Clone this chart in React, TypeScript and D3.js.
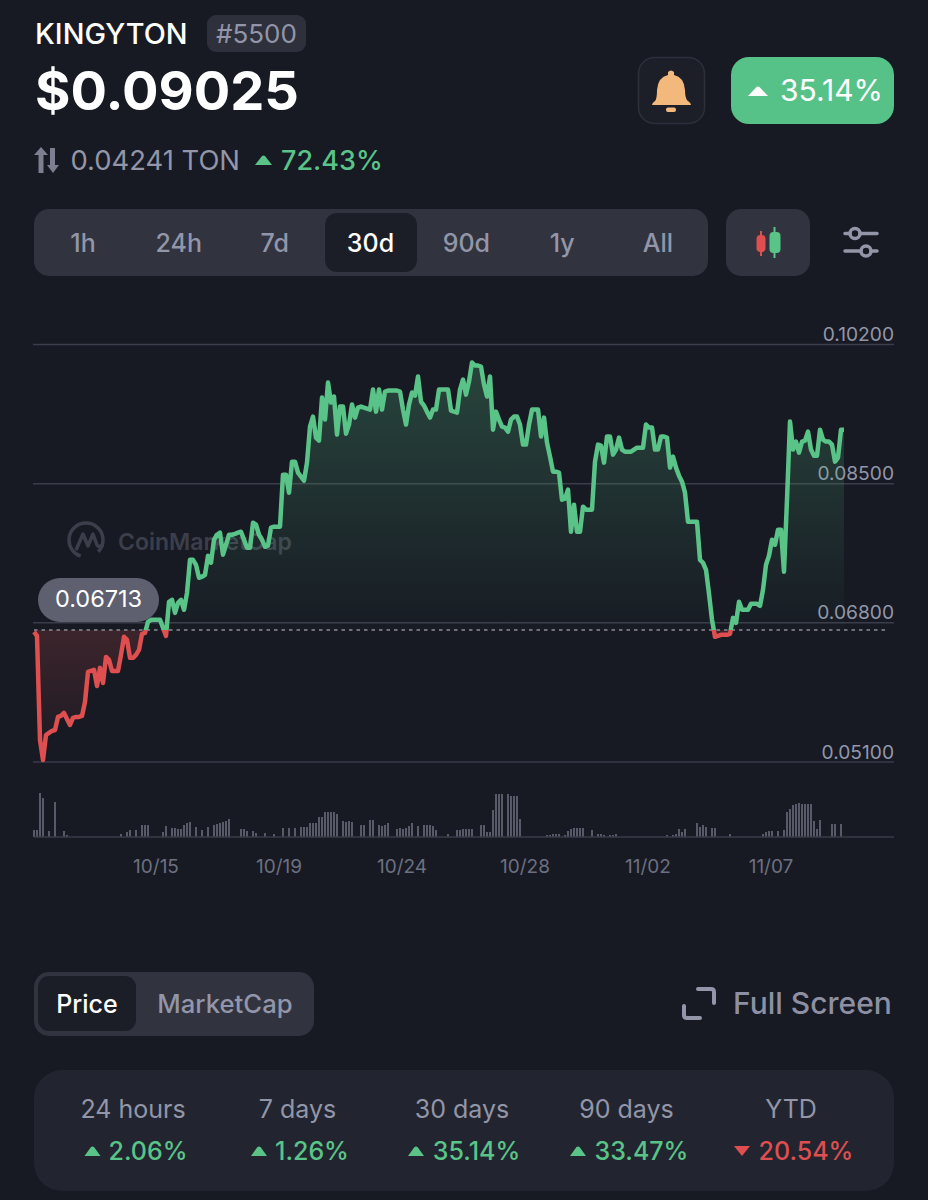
import React from "react";
import * as d3 from "d3";

// Prices in 1e-5 units, one reading per slot
const priceE5 = [
6690,6641,5369,5124,5430,5455,5479,5491,5650,5663,5699,5626,5553,5638,5650,5650,5663,5834,6201,6213,
6225,6029,6250,6066,6384,6347,6213,6213,6213,6409,6629,6592,6372,6372,6409,6470,6665,6678,6812,6837,
6837,6837,6837,6739,6641,7057,7081,6922,7045,7081,6959,7167,7570,7570,7509,7350,7363,7387,7619,7534,
7815,7876,7901,7632,7754,7876,7876,7888,7901,7913,7815,7717,7717,8023,7999,7876,7815,7729,7742,7962,
7974,7974,7974,8610,8610,8390,8769,8769,8634,8586,8537,8757,9197,9319,9063,9026,9552,9283,9735,9491,
9564,9099,9442,9442,9111,9222,9466,9307,9429,9442,9429,9417,9405,9650,9380,9650,9405,9625,9637,9637,
9637,9637,9625,9405,9222,9466,9613,9576,9809,9503,9454,9380,9307,9405,9405,9650,9650,9650,9650,9393,
9380,9368,9650,9772,9588,9747,9980,9943,9943,9931,9711,9564,9809,9160,9380,9283,9197,9185,9136,9283,
9319,9319,9222,8977,8977,9222,9405,9405,9405,9075,9307,9001,8830,8647,8647,8634,8304,8316,8427,7913,
8243,7913,7913,8219,8182,8182,8182,8769,8977,8965,8757,9075,9075,8855,8916,9063,8916,8891,8891,8891,
8916,8940,8940,8940,9222,9185,9185,8916,8916,9075,9075,9063,8696,8830,8696,8598,8524,8390,8035,8035,
8035,8035,7570,7534,7448,7155,6837,6629,6641,6653,6653,6653,6665,6861,6800,7057,6959,6959,6959,7032,
7032,7032,7008,7204,7509,7619,7815,7754,7937,7937,7424,8304,9258,8916,9014,8879,9014,9026,9136,8916,
8842,8842,9160,9038,9014,9014,8977,8769,8818,9160,9160,
];
const volumes = [
7,7,44,39,0,6,0,35,0,0,6,2,0,0,0,0,0,0,0,0,
0,0,0,0,0,0,0,0,0,3,0,5,7,0,7,0,12,12,12,0,
0,0,0,5,11,0,9,9,8,8,12,14,15,0,10,0,7,0,10,0,
12,13,14,15,16,18,0,0,0,8,8,6,0,6,4,0,0,4,0,0,
3,0,0,9,0,9,0,9,0,10,10,10,14,14,14,20,20,25,25,25,
25,23,0,16,15,16,15,0,0,12,12,0,17,17,0,12,11,12,14,0,
0,8,9,8,9,11,14,0,11,0,12,12,12,11,7,0,0,0,3,0,
0,7,7,8,8,8,8,0,0,12,12,5,5,27,43,43,43,0,43,41,
41,41,18,0,0,0,0,0,0,0,0,2,2,3,3,3,0,2,6,8,
9,9,9,9,0,0,7,0,3,3,2,0,2,2,3,0,0,0,0,0,
0,0,0,0,0,0,0,0,0,0,0,2,0,2,3,8,5,8,0,0,
0,14,10,12,10,0,9,9,0,0,0,0,3,0,0,0,0,0,0,0,
0,0,0,3,5,6,6,0,6,0,7,25,28,32,33,34,33,33,33,33,
16,8,17,0,0,0,13,13,0,13,0,
];
const priceTicks = [0.102, 0.085, 0.068, 0.051];
const dateTicks = ["10/15", "10/19", "10/24", "10/28", "11/02", "11/07"];
const basePrice = 0.06713;
const timeRanges = ["1h", "24h", "7d", "30d", "90d", "1y", "All"];
const statLabels = ["24 hours", "7 days", "30 days", "90 days", "YTD"];
const statValues = ["2.06%", "1.26%", "35.14%", "33.47%", "20.54%"];
const statUp = [true, true, true, true, false];

const W = 928, H = 1200;
const FONT = "Inter, 'Noto Sans', sans-serif";
const BG = "#171a23", PANEL = "#31333f", ACTIVE = "#1c1e27", STAT = "#22252f";
const GREEN = "#5ac488", RED = "#df4f50", GRAY = "#9296a8", GRID = "#3a3d4a";

const prices = priceE5.map((v) => v / 1e5);
const x = d3.scaleLinear().domain([0, prices.length - 1]).range([34, 844]);
const y = d3.scaleLinear().domain([0.051, 0.102]).range([762, 344.5]);
const yVol = d3.scaleLinear().domain([0, 50]).range([837, 787]);
const xDate = d3.scalePoint<string>().domain(dateTicks).range([156, 771]);
const xRange = d3.scalePoint<string>().domain(timeRanges).range([83, 658]);
const xStat = d3.scalePoint<string>().domain(statLabels).range([133, 791]);
const statText = [148, 312, 476.5, 641.5, 806];
const statTri = [92.5, 259, 416, 578, 742];

const base = y(basePrice);
const line = d3.line<number>().x((_, i) => x(i)).y((d) => y(d));
const area = d3.area<number>().x((_, i) => x(i)).y0(base).y1((d) => y(d));

const Tri = ({ cx, cy, w, h, up, fill }: any) => (
  <path d={up ? `M${cx - w / 2} ${cy + h / 2}L${cx - 1.5} ${cy - h / 2 + 1}Q${cx} ${cy - h / 2} ${cx + 1.5} ${cy - h / 2 + 1}L${cx + w / 2} ${cy + h / 2}Z`
    : `M${cx - w / 2} ${cy - h / 2}L${cx} ${cy + h / 2}L${cx + w / 2} ${cy - h / 2}Z`} fill={fill} />
);

export default function App() {
  return (
    <svg width={W} height={H} viewBox={`0 0 ${W} ${H}`} fontFamily={FONT}
      style={{ position: "fixed", left: 0, top: 0, display: "block", background: BG }}>
      <defs>
        <linearGradient id="gArea" gradientUnits="userSpaceOnUse" x1="0" x2="0" y1="365" y2={base}>
          <stop offset="0" stopColor={GREEN} stopOpacity={0.25} />
          <stop offset="1" stopColor={GREEN} stopOpacity={0.01} />
        </linearGradient>
        <linearGradient id="rArea" gradientUnits="userSpaceOnUse" x1="0" x2="0" y1={base} y2="762">
          <stop offset="0" stopColor={RED} stopOpacity={0.19} />
          <stop offset="1" stopColor={RED} stopOpacity={0.01} />
        </linearGradient>
        <clipPath id="above"><rect x="0" y="0" width={W} height={base} /></clipPath>
        <clipPath id="below"><rect x="0" y={base} width={W} height={H - base} /></clipPath>
      </defs>
      <rect width={W} height={H} fill={BG} />

      {/* Header */}
      <text x={35} y={44} fontSize={28.8} fontWeight={500} fill="#fff">KINGYTON</text>
      <rect x={207} y={15} width={99} height={37} rx={9} fill="#2e303c" />
      <text x={256.5} y={43} fontSize={26} textAnchor="middle" fill={GRAY}>#5500</text>
      <text x={35} y={110} fontSize={54.2} fontWeight={700} fill="#fff">$0.09025</text>
      <g fill="#7b7f8f">
        <path d="M34 155L41 147L48 155H43.5V173H38.5V155Z" />
        <path d="M47 165H50V148H55V165H59L53 173Z" />
      </g>
      <text x={70.5} y={170} fontSize={27.4} fill={GRAY}>0.04241 TON</text>
      <Tri cx={263.5} cy={160} w={17} h={10} up fill={GREEN} />
      <text x={281} y={170} fontSize={27} fontWeight={500} fill={GREEN}>72.43%</text>

      {/* Bell + change pill */}
      <rect x={638.5} y={57.5} width={66} height={66} rx={16} fill="#1c1e28" stroke="#2d303c" strokeWidth={1.5} />
      <path d="M652 105Q652 103 655 101Q657 99 657 90Q658 77 668 75V72Q671 69 674 72V75Q684 77 685 90Q685 99 688 101Q691 103 691 105Z" fill="#f3b87c" />
      <rect x={666} y={107.5} width={10} height={4.5} rx={2} fill="#f3b87c" />
      <rect x={731} y={57} width={163} height={67} rx={18} fill="#57c288" />
      <Tri cx={758} cy={91} w={20} h={10} up fill="#fff" />
      <text x={780} y={101} fontSize={30} fontWeight={400} fill="#fff">35.14%</text>

      {/* Time range tabs */}
      <rect x={34} y={209} width={674} height={67} rx={15} fill={PANEL} />
      <rect x={325} y={213} width={92} height={59} rx={12} fill={ACTIVE} />
      {timeRanges.map((t) => (
        <text key={t} x={xRange(t)} y={252} fontSize={25} fontWeight={500} textAnchor="middle"
          fill={t === "30d" ? "#fff" : GRAY}>{t}</text>
      ))}
      <rect x={726} y={209} width={84} height={67} rx={15} fill={PANEL} />
      <path d="M761 231V256" stroke={RED} strokeWidth={2} />
      <rect x={756.5} y={235} width={9} height={17} rx={4} fill={RED} />
      <path d="M774.500 227V258" stroke={GREEN} strokeWidth={2} />
      <rect x={769.5} y={232} width={11} height={21} rx={4} fill={GREEN} />
      <g stroke={GRAY} strokeWidth={3.5} fill="none" strokeLinecap="round">
        <path d="M845 233.500H850M860 233.500H877" />
        <circle cx={855} cy={233.5} r={5} />
        <path d="M845 251H861M871 251H877" />
        <circle cx={866} cy={251} r={5} />
      </g>

      {/* Watermark */}
      <g>
        <circle cx={86} cy={540} r={17} fill="none" stroke="#3c3f4b" strokeWidth={3.5} strokeDasharray="88 19" strokeDashoffset={-32} />
        <path d="M76 550L83 534L88 546L93 534L97 545Q99 548 103 545" fill="none" stroke="#3c3f4b" strokeWidth={3.5} strokeLinejoin="round" />
        <text x={118} y={550} fontSize={23} fontWeight={600} fill="#3c3f4b">CoinMarketCap</text>
      </g>

      {/* Grid */}
      {priceTicks.map((t) => (
        <g key={t}>
          <line x1={33} x2={894} y1={y(t)} y2={y(t)} stroke={GRID} strokeWidth={1.5} />
          <text x={894} y={y(t) - 3.5} fontSize={19.2} textAnchor="end" fill={GRAY}>{t.toFixed(5)}</text>
        </g>
      ))}

      {/* Price */}
      <path d={area(prices) ?? ""} fill="url(#gArea)" clipPath="url(#above)" />
      <path d={area(prices) ?? ""} fill="url(#rArea)" clipPath="url(#below)" />
      <line x1={34} x2={885} y1={base} y2={base} stroke="#8a8d98" strokeWidth={1.5} strokeDasharray="3.500 4" />
      <path d={line(prices) ?? ""} fill="none" stroke={GREEN} strokeWidth={4.5} strokeLinejoin="round" clipPath="url(#above)" />
      <path d={line(prices) ?? ""} fill="none" stroke={RED} strokeWidth={4.5} strokeLinejoin="round" clipPath="url(#below)" />
      <rect x={38} y={578} width={121} height={44} rx={22} fill="#5e6070" />
      <text x={98.5} y={607} fontSize={23.5} textAnchor="middle" fill="#fff">{basePrice.toFixed(5)}</text>

      {/* Volume */}
      {volumes.map((v, i) => v > 0 ? (
        <rect key={i} x={x(i) - 0.9} y={yVol(v)} width={1.8} height={yVol(0) - yVol(v)} fill="#5f6271" />
      ) : null)}
      <line x1={34} x2={894} y1={837} y2={837} stroke={GRID} strokeWidth={1.5} />
      {dateTicks.map((t) => (
        <text key={t} x={xDate(t)} y={873} fontSize={19} textAnchor="middle" fill="#6d7080">{t}</text>
      ))}

      {/* Price / MarketCap */}
      <rect x={34} y={972} width={280} height={64} rx={15} fill={PANEL} />
      <rect x={38} y={976} width={98} height={55} rx={11} fill={ACTIVE} />
      <text x={87} y={1013} fontSize={25} fontWeight={500} textAnchor="middle" fill="#fff">Price</text>
      <text x={225} y={1013} fontSize={25.7} fontWeight={500} textAnchor="middle" fill={GRAY}>MarketCap</text>
      <g fill="none" stroke={GRAY} strokeWidth={4} strokeLinecap="round" strokeLinejoin="round">
        <path d="M698 989H711Q714 989 714 992V1003" />
        <path d="M684 1006V1015Q684 1018 687 1018H700" />
      </g>
      <text x={733} y={1014} fontSize={30} fontWeight={500} fill="#8d90a3">Full Screen</text>

      {/* Stats */}
      <rect x={34} y={1070} width={860} height={121} rx={28} fill={STAT} />
      {statLabels.map((t, i) => (
        <g key={t}>
          <text x={xStat(t)} y={1118} fontSize={25} textAnchor="middle" fill={GRAY}>{t}</text>
          <Tri cx={statTri[i]} cy={1151} w={16} h={10} up={statUp[i]} fill={statUp[i] ? GREEN : RED} />
          <text x={statText[i]} y={1160} fontSize={25} fontWeight={500} textAnchor="middle" fill={statUp[i] ? GREEN : RED}>{statValues[i]}</text>
        </g>
      ))}
    </svg>
  );
}
